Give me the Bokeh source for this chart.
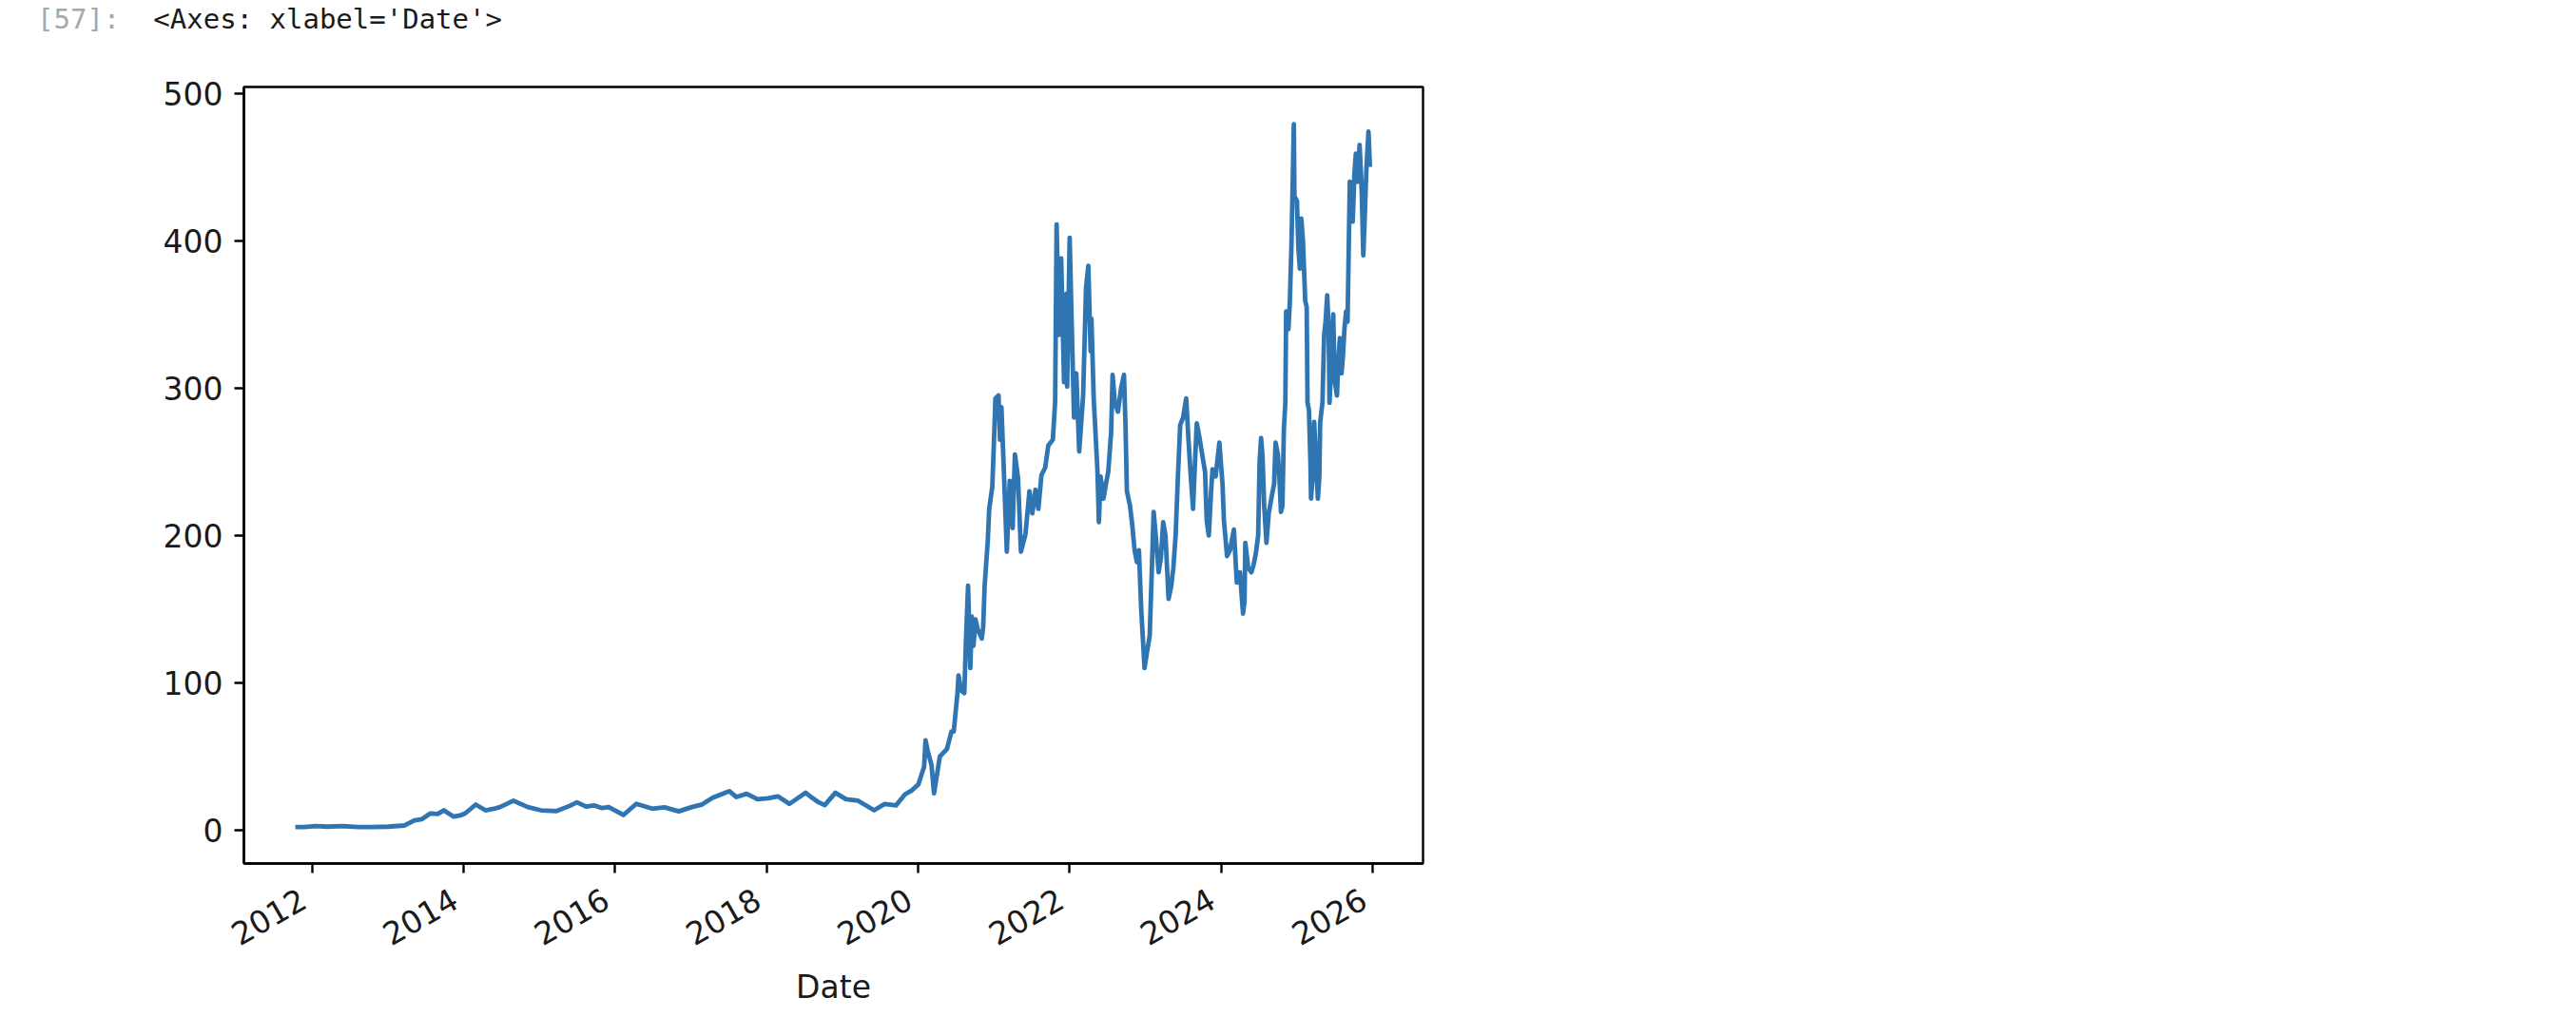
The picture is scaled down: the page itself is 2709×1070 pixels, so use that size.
import math
import html
import pandas as pd
from bokeh.plotting import figure
from bokeh.models import Range1d, FixedTicker, DatetimeTickFormatter, Div
from bokeh.layouts import column
from bokeh.embed import file_html
from bokeh.resources import INLINE

# ---- data ----
dates = [
    "2011-10-12", "2011-11-24", "2012-01-19", "2012-03-14", "2012-05-27", "2012-08-08", "2012-10-20",
    "2013-01-01", "2013-03-22", "2013-05-08", "2013-06-14", "2013-07-24", "2013-08-29", "2013-09-27",
    "2013-11-13", "2013-12-15", "2014-01-08", "2014-02-28", "2014-04-16", "2014-05-26", "2014-06-25",
    "2014-08-29", "2014-11-06", "2015-01-08", "2015-03-25", "2015-05-27", "2015-07-01", "2015-08-14",
    "2015-09-24", "2015-10-30", "2015-12-01", "2016-02-10", "2016-04-12", "2016-06-28", "2016-08-26",
    "2016-11-03", "2017-01-05", "2017-02-24", "2017-04-16", "2017-07-05", "2017-08-08", "2017-09-27",
    "2017-11-17", "2018-01-08", "2018-02-24", "2018-04-20", "2018-07-08", "2018-08-08", "2018-09-09",
    "2018-10-08", "2018-11-28", "2019-01-19", "2019-03-18", "2019-06-03", "2019-07-24", "2019-09-16",
    "2019-10-30", "2019-12-02", "2020-01-02", "2020-01-30", "2020-02-06", "2020-02-18", "2020-03-06",
    "2020-03-18", "2020-04-15", "2020-05-19", "2020-06-10", "2020-06-21", "2020-07-09", "2020-07-14",
    "2020-07-26", "2020-08-11", "2020-08-18", "2020-08-29", "2020-09-09", "2020-09-16", "2020-09-24",
    "2020-10-04", "2020-10-15", "2020-11-03", "2020-11-10",
    "2020-11-17", "2020-12-02", "2020-12-09", "2020-12-24", "2021-01-05", "2021-01-08", "2021-01-23",
    "2021-01-30", "2021-02-06", "2021-02-20", "2021-03-04", "2021-03-18", "2021-04-01", "2021-04-12",
    "2021-04-27", "2021-05-11", "2021-06-02", "2021-06-21", "2021-07-05", "2021-07-20", "2021-08-03",
    "2021-08-18", "2021-09-05", "2021-09-20", "2021-10-12", "2021-10-23", "2021-10-30", "2021-11-10",
    "2021-11-21", "2021-12-05", "2021-12-16", "2021-12-20", "2022-01-01", "2022-01-11", "2022-01-22",
    "2022-02-02", "2022-02-16", "2022-03-07", "2022-03-21", "2022-04-01", "2022-04-12", "2022-04-16",
    "2022-04-27", "2022-05-15", "2022-05-22",
    "2022-05-30", "2022-06-13", "2022-06-25",
    "2022-07-06", "2022-07-20", "2022-07-27", "2022-08-07", "2022-08-22", "2022-09-06", "2022-09-20",
    "2022-09-27", "2022-10-04", "2022-10-19", "2022-10-30", "2022-11-10", "2022-11-21", "2022-12-01",
    "2022-12-12", "2022-12-20", "2022-12-28", "2023-01-08", "2023-01-22", "2023-02-02", "2023-02-10",
    "2023-02-20", "2023-03-06", "2023-03-17", "2023-03-28", "2023-04-08", "2023-04-23", "2023-05-05",
    "2023-05-16", "2023-05-27", "2023-06-07", "2023-06-18", "2023-07-02", "2023-07-17", "2023-07-28",
    "2023-08-08", "2023-08-19", "2023-08-30", "2023-09-06", "2023-09-17", "2023-10-02", "2023-10-16",
    "2023-10-24", "2023-11-03", "2023-11-14", "2023-11-21", "2023-12-06", "2023-12-24", "2024-01-08",
    "2024-01-15", "2024-01-30", "2024-02-13", "2024-03-03", "2024-03-17", "2024-04-01", "2024-04-16",
    "2024-04-23", "2024-04-27", "2024-05-11", "2024-05-26", "2024-06-06", "2024-06-17", "2024-06-28",
    "2024-07-05", "2024-07-12", "2024-07-19", "2024-07-27", "2024-08-07", "2024-08-18", "2024-09-02",
    "2024-09-13", "2024-09-20", "2024-10-01", "2024-10-08", "2024-10-16", "2024-10-23", "2024-10-30",
    "2024-11-06", "2024-11-10", "2024-11-21", "2024-11-28", "2024-12-06", "2024-12-17", "2024-12-20",
    "2025-01-01", "2025-01-08", "2025-01-15", "2025-01-22", "2025-01-30", "2025-02-10", "2025-02-17",
    "2025-02-21", "2025-02-28", "2025-03-07", "2025-03-10", "2025-03-18", "2025-03-25", "2025-04-05",
    "2025-04-12", "2025-04-19", "2025-04-23", "2025-05-04", "2025-05-12", "2025-05-19", "2025-05-27",
    "2025-06-03", "2025-06-07", "2025-06-17", "2025-06-25", "2025-07-02", "2025-07-13", "2025-07-20",
    "2025-07-27", "2025-08-04", "2025-08-11", "2025-08-18", "2025-08-26", "2025-09-02", "2025-09-13",
    "2025-09-20", "2025-09-27", "2025-10-05", "2025-10-12", "2025-10-20", "2025-10-30", "2025-11-06",
    "2025-11-10", "2025-11-17", "2025-11-25", "2025-12-02", "2025-12-12", "2025-12-19",
]
prices = [
    2.1, 2.2, 2.8, 2.4, 2.8, 2.2, 2.1,
    2.4, 3.2, 6.7, 7.5, 11.4, 11.0, 13.5,
    9.2, 10.0, 11.4, 17.4, 13.5, 14.5, 15.7,
    20.0, 15.7, 13.5, 13.0, 16.5, 18.9, 16.0,
    16.8, 15.0, 15.7, 10.3, 17.9, 14.6, 15.5,
    12.8, 15.7, 17.5, 22.1, 26.5, 22.5, 24.7,
    21.0, 21.7, 23.0, 17.8, 25.4, 22.0, 18.9,
    17.0, 25.4, 21.0, 20.0, 13.5, 17.8, 16.8,
    24.3, 27.0, 31.0, 43.0, 61.0, 53.0, 44.0,
    25.0, 50.0, 55.0, 67.0, 67.0, 93.0, 105.0,
    95.0, 93.0, 125.0, 166.0, 110.0, 145.0, 125.0,
    143.0, 136.0, 130.0, 138.0,
    166.0, 196.0, 218.0, 233.0, 280.0, 293.0, 295.0,
    265.0, 287.0, 235.0, 189.0, 237.0, 205.0, 255.0,
    239.0, 189.0, 201.0, 230.0, 215.0, 231.0, 218.0,
    241.0, 246.0, 261.0, 265.0, 291.0, 411.0, 336.0,
    388.0, 304.0, 364.0, 301.0, 402.0, 343.0, 280.0,
    310.0, 257.0, 295.0, 368.0, 383.0, 325.0, 347.0,
    293.0, 244.0, 209.0,
    240.0, 225.0, 235.0,
    243.0, 270.0, 309.0, 290.0, 284.0, 300.0, 309.0,
    276.0, 230.0, 220.0, 207.0, 190.0, 182.0, 190.0,
    150.0, 130.0, 110.0, 120.0, 132.0, 180.0, 216.0,
    200.0, 175.0, 185.0, 209.0, 200.0, 157.0, 165.0,
    178.0, 200.0, 240.0, 275.0, 280.0, 293.0, 265.0,
    240.0, 218.0, 255.0, 276.0, 268.0, 255.0, 243.0,
    210.0, 200.0, 230.0, 245.0, 240.0, 263.0, 235.0,
    210.0, 186.0, 190.0, 204.0, 168.0, 175.0, 147.0,
    155.0, 195.0, 178.0, 175.0, 180.0, 188.0, 200.0,
    250.0, 266.0, 254.0, 220.0, 195.0, 215.0, 227.0,
    235.0, 263.0, 255.0, 240.0, 216.0, 220.0, 272.0,
    290.0, 352.0, 340.0, 359.0, 400.0, 479.0, 430.0,
    427.0, 395.0, 381.0, 415.0, 400.0, 359.0, 355.0,
    290.0, 285.0, 250.0, 225.0, 240.0, 277.0, 245.0,
    225.0, 240.0, 277.0, 290.0, 336.0, 345.0, 363.0,
    340.0, 290.0, 320.0, 350.0, 305.0, 295.0, 320.0,
    334.0, 310.0, 322.0, 340.0, 352.0, 345.0, 440.0,
    425.0, 413.0, 445.0, 459.0, 440.0, 465.0, 445.0,
    431.0, 390.0, 420.0, 449.0, 474.0, 450.0,
]
x_tick_years = [2012, 2014, 2016, 2018, 2020, 2022, 2024, 2026]
y_ticks = [0, 100, 200, 300, 400, 500]
x_label = "Date"
prompt_text = "[57]:"
repr_text = "<Axes: xlabel='Date'>"

assert len(dates) == len(prices)

# ---- figure ----
x = pd.to_datetime(dates)
x_start = pd.Timestamp("2011-02-06")
x_end = pd.Timestamp("2026-09-01")

p = figure(
    output_backend="svg", toolbar_location=None,
    x_axis_type="datetime",
    frame_width=1240, frame_height=817,
    min_border_left=256, min_border_top=41, min_border_right=30, min_border_bottom=60,
    x_range=Range1d(x_start, x_end), y_range=Range1d(-22.6, 504.3),
)
p.background_fill_color = "white"
p.border_fill_color = "white"
p.outline_line_color = "black"
p.outline_line_width = 2.4
p.grid.visible = False

p.line(x, prices, line_color="#2f75b2", line_width=4.8, line_join="round")

tick_ms = [pd.Timestamp(f"{yr}-01-01").value / 1e6 for yr in x_tick_years]
p.xaxis.ticker = FixedTicker(ticks=tick_ms)
fmt = "%Y\u00a0"
p.xaxis.formatter = DatetimeTickFormatter(
    years=fmt, months=fmt, days=fmt, hours=fmt, minutes=fmt,
    seconds=fmt, milliseconds=fmt, microseconds=fmt, hourmin=fmt, minsec=fmt)
p.yaxis.ticker = FixedTicker(ticks=y_ticks)

for ax in (p.xaxis[0], p.yaxis[0]):
    ax.axis_line_color = "black"
    ax.axis_line_width = 2.4
    ax.major_tick_line_color = "black"
    ax.major_tick_line_width = 2.4
    ax.major_tick_out = 10
    ax.major_tick_in = 0
    ax.minor_tick_out = 0
    ax.minor_tick_in = 0
    ax.major_label_text_font = "DejaVu Sans"
    ax.major_label_text_font_size = "33px"
    ax.major_label_text_color = "#1a1a1a"

p.yaxis.major_label_standoff = 12
p.xaxis.major_label_orientation = math.pi / 6
p.xaxis.major_label_standoff = 20
p.xaxis.axis_label = x_label
p.xaxis.axis_label_text_font = "DejaVu Sans"
p.xaxis.axis_label_text_font_size = "33px"
p.xaxis.axis_label_text_font_style = "normal"
p.xaxis.axis_label_text_color = "#1a1a1a"
p.xaxis.axis_label_standoff = -4

header = Div(
    text=(
        '<div style="font-family:\'DejaVu Sans Mono\',monospace;font-size:29px;'
        'line-height:29px;padding-left:34px;padding-top:1px;white-space:pre;">'
        f'<span style="color:#a8a8a8">{html.escape(prompt_text)}</span>'
        f'<span style="color:#1a1a1a;margin-left:35px">{html.escape(repr_text)}</span></div>'
    ),
    width=800, height=40,
)

layout = column(header, p, spacing=0)
open("out.html", "w").write(file_html(layout, INLINE))
